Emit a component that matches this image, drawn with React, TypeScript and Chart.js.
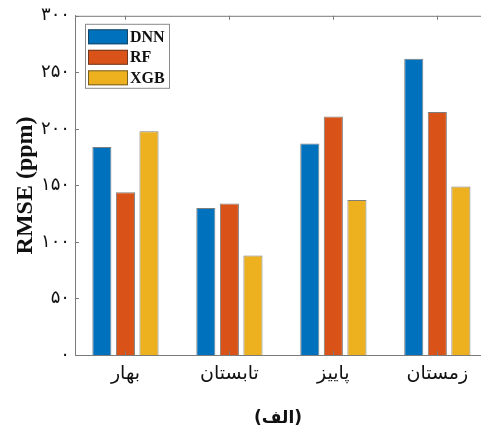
import React, { useEffect, useRef } from "react";
import { Chart, registerables } from "chart.js";

Chart.register(...registerables);

const categories = ["بهار", "تابستان", "پاییز", "زمستان"];
const seriesNames = ["DNN", "RF", "XGB"];
const dnnValues = [184, 130, 187, 262];
const rfValues = [144, 134, 211, 215];
const xgbValues = [198, 88, 137, 149];
const seriesColors = ["#0072BD", "#D95319", "#EDB120"];
const yTicks = [0, 50, 100, 150, 200, 250, 300];

const faDigits = "۰۱۲۳۴۵۶۷۸۹";
const toFa = (v: number | string) => String(v).replace(/\d/g, (d) => faDigits[Number(d)]);

const axisColor = "#7a7a7a";

const framePlugin = {
  id: "frame",
  afterDraw(chart: any) {
    const { ctx, chartArea } = chart;
    const xs = chart.scales.x;
    const ys = chart.scales.y;
    ctx.save();
    ctx.strokeStyle = axisColor;
    ctx.lineWidth = 1;
    ctx.beginPath();
    ctx.moveTo(chartArea.left, chartArea.top + 0.5);
    ctx.lineTo(chartArea.right, chartArea.top + 0.5);
    ctx.stroke();
    ctx.beginPath();
    for (const t of ys.ticks) {
      const py = Math.round(ys.getPixelForValue(t.value)) + 0.5;
      ctx.moveTo(chartArea.left, py);
      ctx.lineTo(chartArea.left + 4, py);
    }
    categories.forEach((_, i) => {
      const px = Math.round(xs.getPixelForValue(i)) + 0.5;
      ctx.moveTo(px, chartArea.bottom);
      ctx.lineTo(px, chartArea.bottom - 4);
      ctx.moveTo(px, chartArea.top);
      ctx.lineTo(px, chartArea.top + 4);
    });
    ctx.stroke();

    const lx = chartArea.left + 10;
    const ly = chartArea.top + 8;
    const lw = 84;
    const lh = 64;
    ctx.fillStyle = "#ffffff";
    ctx.fillRect(lx, ly, lw, lh);
    ctx.strokeStyle = "#8a8a8a";
    ctx.strokeRect(lx + 0.5, ly + 0.5, lw, lh);
    ctx.font = "bold 16px 'Liberation Serif'";
    ctx.textBaseline = "middle";
    ctx.textAlign = "left";
    chart.data.datasets.forEach((ds: any, i: number) => {
      const cy = ly + 13 + i * 20.5;
      ctx.fillStyle = ds.backgroundColor;
      ctx.fillRect(lx + 3, cy - 7.5, 40, 15);
      ctx.strokeStyle = "rgba(40,40,40,0.6)";
      ctx.strokeRect(lx + 3.5, cy - 7, 39, 14);
      ctx.fillStyle = "#111";
      ctx.fillText(ds.label, lx + 45, cy + 1);
    });
    ctx.restore();
  },
};

export default function App() {
  const ref = useRef<HTMLCanvasElement>(null);
  useEffect(() => {
    if (!ref.current) return;
    const allValues = [dnnValues, rfValues, xgbValues];
    const chart = new Chart(ref.current, {
      type: "bar",
      data: {
        datasets: seriesNames.map((name, s) => ({
          label: name,
          data: allValues[s].map((v, i) => ({ x: i, y: v })),
          backgroundColor: seriesColors[s],
          borderColor: "rgba(40,40,40,0.6)",
          borderWidth: 1,
          categoryPercentage: 0.68,
          barPercentage: 0.81,
        })),
      },
      options: {
        animation: false,
        responsive: false,
        devicePixelRatio: 1,
        layout: { padding: { top: 13, left: 0, right: 0, bottom: 0 } },
        plugins: { legend: { display: false }, tooltip: { enabled: false } },
        scales: {
          x: {
            type: "linear",
            offset: false,
            min: -0.485,
            max: 3.42,
            afterFit: (scale: any) => {
              scale.height = 81;
            },
            afterBuildTicks: (scale: any) => {
              scale.ticks = categories.map((_, i) => ({ value: i }));
            },
            grid: { display: false, drawTicks: false, offset: false },
            border: { display: true, color: axisColor },
            ticks: {
              callback: (v: any) => (Number.isInteger(v) ? categories[v] : null),
              font: { family: "'DejaVu Sans'", size: 19 },
              color: "#111",
              padding: 8,
              maxRotation: 0,
              autoSkip: false,
            },
            title: {
              display: true,
              text: "(الف)",
              font: { family: "'DejaVu Sans'", size: 17, weight: "bold" },
              color: "#111",
              padding: { top: 0, bottom: 7 },
            },
          },
          y: {
            min: 0,
            max: 300,
            afterFit: (scale: any) => {
              scale.width = 75;
            },
            afterBuildTicks: (scale: any) => {
              scale.ticks = yTicks.map((v) => ({ value: v }));
            },
            grid: { display: false, drawTicks: false },
            border: { display: true, color: axisColor },
            ticks: {
              callback: (v: any) => toFa(v),
              font: { family: "'DejaVu Sans'", size: 18 },
              color: "#111",
              padding: 5,
            },
            title: {
              display: true,
              text: "RMSE (ppm)",
              font: { family: "'Liberation Serif'", size: 24, weight: "bold" },
              color: "#111",
              padding: { top: 11, bottom: 0 },
            },
          },
        },
      },
      plugins: [framePlugin],
    });
    return () => chart.destroy();
  }, []);
  return (
    <div style={{ position: "fixed", left: 0, top: 0, width: 481, height: 436, background: "#fff" }}>
      <canvas ref={ref} width={481} height={436} style={{ display: "block" }} />
    </div>
  );
}
